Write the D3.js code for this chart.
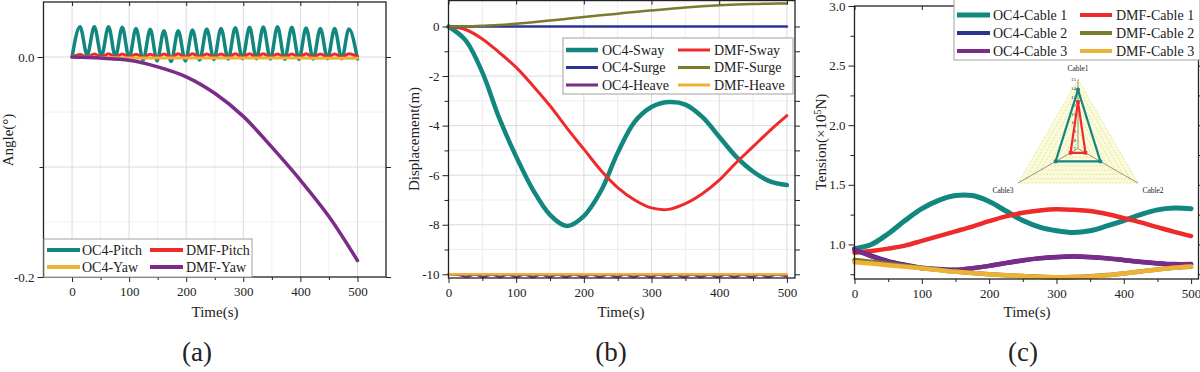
<!DOCTYPE html>
<html>
<head>
<meta charset="utf-8">
<script src="https://cdn.jsdelivr.net/npm/d3@7"></script>
<style>
  body { margin: 0; background: #fff; }
  svg text { font-family: "Liberation Serif", "Times New Roman", serif; fill: #222; }
</style>
</head>
<body>
<svg id="fig" width="1200" height="372"></svg>
<script>
// ---- (a) angles: wave times are the peaks / troughs of the pitch oscillation
const tWave = [0, 14, 26.5, 39, 51.5, 64, 76, 88, 100, 112, 124.5, 137, 149, 161, 173.5, 186, 198.5, 211,
  223.5, 236, 248.5, 261, 273.5, 286, 298.5, 311, 323, 335, 347.5, 360, 372.5, 385, 397.5, 410, 422.5,
  435, 447.5, 460, 472.5, 485, 500];
const oc4Pitch = [0, 0.0276, 0.0018, 0.0276, 0.0009, 0.0276, 0.0003, 0.027, -0.0009, 0.026, -0.0027,
  0.0252, -0.0036, 0.0239, -0.004, 0.0239, -0.0036, 0.0245, -0.0027, 0.0255, -0.0022, 0.026, -0.0018,
  0.0267, -0.0015, 0.027, -0.0015, 0.0273, -0.0018, 0.0276, -0.0021, 0.027, -0.0021, 0.0264, -0.0018,
  0.026, -0.0015, 0.0258, -0.0015, 0.0255, -0.0018];
const dmfPitch = [0, 0.0022, 0, 0.0028, -0.0002, 0.003, -0.0002, 0.0028, -0.0003, 0.0025, -0.0003,
  0.0025, -0.0003, 0.0028, -0.0003, 0.003, -0.0003, 0.003, -0.0003, 0.0028, -0.0003, 0.0028, -0.0003,
  0.003, -0.0003, 0.003, -0.0003, 0.003, -0.0003, 0.0028, -0.0003, 0.0028, -0.0003, 0.003, -0.0003,
  0.0028, -0.0003, 0.0028, -0.0003, 0.003, 0.0005];
const tYaw = [0, 50, 100, 150, 200, 250, 300, 350, 400, 450, 500];
const oc4Yaw = [0, -0.0005, -0.0008, -0.001, -0.001, -0.001, -0.001, -0.001, -0.001, -0.0012, -0.0012];
const dmfYaw = [0, -0.001, -0.003, -0.009, -0.018, -0.033, -0.054, -0.082, -0.112, -0.145, -0.185];

// ---- (b) displacement
const tStep = [0, 25, 50, 75, 100, 125, 150, 175, 200, 225, 250, 275, 300, 325, 350, 375, 400, 425, 450, 475, 500];
const oc4Sway = [0, -0.55, -1.85, -3.7, -5.25, -6.6, -7.6, -8.05, -7.65, -6.65, -5.1, -3.85, -3.25, -3.05,
  -3.15, -3.65, -4.45, -5.25, -5.85, -6.25, -6.4];
const dmfSway = [0, -0.12, -0.5, -1.05, -1.65, -2.4, -3.2, -4.1, -4.95, -5.8, -6.5, -7.0, -7.32, -7.38,
  -7.15, -6.75, -6.2, -5.5, -4.85, -4.2, -3.6];
const oc4Surge = [0, 0, 0, 0, 0, 0, 0, 0, 0, 0, 0, 0, 0, 0, 0, 0, 0, 0, 0, 0, 0];
const dmfSurge = [0, 0, 0.03, 0.06, 0.11, 0.17, 0.24, 0.31, 0.38, 0.45, 0.52, 0.59, 0.65, 0.71, 0.77,
  0.82, 0.86, 0.89, 0.91, 0.92, 0.93];
const oc4Heave = [-10.0, -10.02, -10.09, -10.01, -10.1, -10.01, -10.1, -10.01, -10.1, -10.01, -10.1,
  -10.01, -10.1, -10.01, -10.1, -10.01, -10.1, -10.01, -10.1, -10.01, -10.1, -10.01, -10.1, -10.01,
  -10.1, -10.01, -10.1, -10.01, -10.1, -10.01, -10.1, -10.01, -10.1, -10.01, -10.1, -10.01, -10.1,
  -10.01, -10.1, -10.01, -10.08];
const dmfHeave = [-10.0, -10.0, -10.0, -10.0, -10.0, -10.0, -10.0, -10.0, -10.0, -10.0, -10.0, -10.0,
  -10.0, -10.0, -10.0, -10.0, -10.0, -10.0, -10.0, -10.0, -10.0];

// ---- (c) tension (x10^5 N)
const oc4Cable1 = [0.965, 1.0, 1.09, 1.2, 1.3, 1.37, 1.41, 1.41, 1.36, 1.28, 1.2, 1.145, 1.115, 1.1, 1.115,
  1.155, 1.2, 1.25, 1.29, 1.305, 1.3];
const dmfCable1 = [0.93, 0.945, 0.965, 0.99, 1.03, 1.07, 1.11, 1.15, 1.195, 1.235, 1.265, 1.285, 1.295,
  1.29, 1.28, 1.255, 1.22, 1.185, 1.145, 1.105, 1.07];
const oc4Cable2 = [0.955, 0.905, 0.86, 0.83, 0.805, 0.793, 0.787, 0.8, 0.82, 0.843, 0.866, 0.883, 0.893,
  0.898, 0.893, 0.883, 0.868, 0.853, 0.841, 0.833, 0.833];
const oc4Cable3 = [0.96, 0.9, 0.855, 0.825, 0.8, 0.79, 0.785, 0.8, 0.82, 0.845, 0.868, 0.885, 0.895, 0.9,
  0.895, 0.885, 0.87, 0.855, 0.843, 0.835, 0.835];
const dmfCable2 = [0.87, 0.855, 0.837, 0.82, 0.803, 0.787, 0.772, 0.76, 0.75, 0.742, 0.736, 0.729, 0.725,
  0.727, 0.733, 0.743, 0.757, 0.773, 0.79, 0.804, 0.812];
const dmfCable3 = [0.85, 0.84, 0.826, 0.813, 0.8, 0.785, 0.77, 0.76, 0.749, 0.741, 0.735, 0.728, 0.724,
  0.726, 0.732, 0.742, 0.756, 0.772, 0.79, 0.805, 0.815];

// radar inset
const radarAxes = ["Cable1", "Cable2", "Cable3"];
const radarTicks = [7, 8, 9, 10, 11, 12, 13, 14, 15];
const radarOC4 = [13.8, 10.0, 10.0];
const radarDMF = [12.4, 8.0, 8.0];

const C = {
  teal: "#12877f", red: "#ef2a2a", orange: "#eeb136", purple: "#7b2b88",
  navy: "#2b3590", olive: "#7b7b2c"
};

const svg = d3.select("#fig");
svg.append("rect").attr("width", 1200).attr("height", 372).attr("fill", "#fff");

const zip = (t, v) => t.map((d, i) => [d, v[i]]);

function gridLines(g, x, y, xs, ys, color) {
  const [l, r] = x.range(), [b, t] = y.range();
  g.append("g").selectAll("line").data(xs).join("line")
    .attr("x1", d => x(d)).attr("x2", d => x(d)).attr("y1", t).attr("y2", b)
    .attr("stroke", color).attr("stroke-width", 1);
  g.append("g").selectAll("line").data(ys).join("line")
    .attr("y1", d => y(d)).attr("y2", d => y(d)).attr("x1", l).attr("x2", r)
    .attr("stroke", color).attr("stroke-width", 1);
}

// wave series go through their peaks/troughs (monotone), smooth ones use catmull-rom
function drawLine(g, x, y, pts, color, w, wave) {
  g.append("path")
    .datum(pts)
    .attr("fill", "none")
    .attr("stroke", color)
    .attr("stroke-width", w)
    .attr("stroke-linejoin", "round")
    .attr("stroke-linecap", "round")
    .attr("d", d3.line().x(d => x(d[0])).y(d => y(d[1]))
      .curve(wave ? d3.curveMonotoneX : d3.curveCatmullRom.alpha(0.5)));
}

// frame + ticks (left/bottom labelled, right outward, top inward)
function frame(g, x, y, o) {
  const [l, r] = x.range(), [b, t] = y.range();
  const fix = s => {
    s.select(".domain").remove();
    s.attr("font-size", 13).attr("color", "#222");
  };
  g.append("g").attr("transform", `translate(0,${b})`)
    .call(d3.axisBottom(x).tickValues(o.xMajor).tickSize(5).tickPadding(5).tickFormat(d3.format("d"))).call(fix);
  g.append("g").attr("transform", `translate(0,${b})`)
    .call(d3.axisBottom(x).tickValues(o.xMinor).tickSize(3).tickFormat("")).call(fix);
  g.append("g").attr("transform", `translate(0,${t})`)
    .call(d3.axisTop(x).tickValues(o.xMajor).tickSize(-4).tickFormat("")).call(fix);
  g.append("g").attr("transform", `translate(${l},0)`)
    .call(d3.axisLeft(y).tickValues(o.yLabelled).tickSize(6).tickPadding(3).tickFormat(o.yFormat)).call(fix);
  g.append("g").attr("transform", `translate(${l},0)`)
    .call(d3.axisLeft(y).tickValues(o.yMinor).tickSize(4).tickFormat("")).call(fix);
  g.append("g").attr("transform", `translate(${r},0)`)
    .call(d3.axisRight(y).tickValues(o.yLabelled.concat(o.yMinor)).tickSize(5).tickFormat("")).call(fix);
  g.append("rect").attr("x", l).attr("y", t).attr("width", r - l).attr("height", b - t)
    .attr("fill", "none").attr("stroke", "#222").attr("stroke-width", 1.3);
}

function titles(g, xc, yl, ycy, ylab, letterX, letter) {
  g.append("text").attr("x", xc).attr("y", 317).attr("text-anchor", "middle")
    .attr("font-size", 15).text("Time(s)");
  const yt = g.append("text").attr("transform", `translate(${yl},${ycy}) rotate(-90)`)
    .attr("text-anchor", "middle").attr("font-size", 15);
  ylab(yt);
  g.append("text").attr("x", letterX).attr("y", 361).attr("text-anchor", "middle")
    .attr("font-size", 27).text(letter);
}

function legend(g, box, cols, rows, items) {
  g.append("rect").attr("x", box[0]).attr("y", box[1]).attr("width", box[2]).attr("height", box[3])
    .attr("fill", "#fff").attr("stroke", "#a0a0a0").attr("stroke-width", 1);
  items.forEach((it, i) => {
    const c = cols[i % 2], yy = rows[Math.floor(i / 2)];
    g.append("line").attr("x1", c[0]).attr("x2", c[1]).attr("y1", yy).attr("y2", yy)
      .attr("stroke", it.color).attr("stroke-width", it.w);
    g.append("text").attr("x", c[2]).attr("y", yy).attr("dy", "0.34em")
      .attr("font-size", 14).text(it.label);
  });
}

// ================= (a) =================
{
  const g = svg.append("g");
  const x = d3.scaleLinear().domain([-50, 550]).range([43.5, 386]);
  const y = d3.scaleLinear().domain([-0.2, 0.05]).range([277, 2]);
  gridLines(g, x, y, [50, 150, 250, 350, 450], [-0.05, -0.15], "#f0f0f0");
  gridLines(g, x, y, [0, 100, 200, 300, 400, 500], [0, -0.1], "#dadada");

  drawLine(g, x, y, zip(tWave, oc4Pitch), C.teal, 3.5, true);
  drawLine(g, x, y, zip(tWave, dmfPitch), C.red, 3, true);
  drawLine(g, x, y, zip(tYaw, oc4Yaw), C.orange, 3);
  drawLine(g, x, y, zip(tYaw, dmfYaw), C.purple, 3.5);

  frame(g, x, y, {
    xMajor: [0, 100, 200, 300, 400, 500], xMinor: [50, 150, 250, 350, 450],
    yLabelled: [0, -0.2], yMinor: [-0.1], yFormat: d => d.toFixed(1)
  });
  legend(g, [44, 239, 208, 38], [[47, 80, 82], [150, 183, 186]], [250, 267], [
    { label: "OC4-Pitch", color: C.teal, w: 4 },
    { label: "DMF-Pitch", color: C.red, w: 4 },
    { label: "OC4-Yaw", color: C.orange, w: 4 },
    { label: "DMF-Yaw", color: C.purple, w: 4 }
  ]);
  titles(g, 215, 13, 140, t => t.text("Angle(°)"), 197, "(a)");
}

// ================= (b) =================
{
  const g = svg.append("g");
  const x = d3.scaleLinear().domain([0, 512]).range([448.5, 795]);
  const y = d3.scaleLinear().domain([-10.15, 1.05]).range([278, 0.5]);
  gridLines(g, x, y, [50, 150, 250, 350, 450], [1, -1, -3, -5, -7, -9], "#ededed");
  gridLines(g, x, y, [100, 200, 300, 400, 500], [-2, -4, -6, -8], "#dadada");

  drawLine(g, x, y, zip(tStep, oc4Sway), C.teal, 4.5);
  drawLine(g, x, y, zip(tStep, dmfSway), C.red, 3);
  drawLine(g, x, y, zip(tStep, oc4Surge), C.navy, 2.5);
  drawLine(g, x, y, zip(tStep, dmfSurge), C.olive, 2.5);
  drawLine(g, x, y, zip(tWave, oc4Heave), C.purple, 2.5, true);
  drawLine(g, x, y, zip(tStep, dmfHeave), C.orange, 2.5);

  frame(g, x, y, {
    xMajor: [0, 100, 200, 300, 400, 500], xMinor: [50, 150, 250, 350, 450],
    yLabelled: [0, -2, -4, -6, -8, -10], yMinor: [-1, -3, -5, -7, -9], yFormat: d => String(d)
  });
  legend(g, [563, 38, 230, 56], [[566, 598, 602], [678, 710, 714]], [50, 67.5, 85], [
    { label: "OC4-Sway", color: C.teal, w: 4.5 },
    { label: "DMF-Sway", color: C.red, w: 3 },
    { label: "OC4-Surge", color: C.navy, w: 3 },
    { label: "DMF-Surge", color: C.olive, w: 3 },
    { label: "OC4-Heave", color: C.purple, w: 3 },
    { label: "DMF-Heave", color: C.orange, w: 3 }
  ]);
  titles(g, 621, 418.5, 139, t => t.text("Displacement(m)"), 611, "(b)");
}

// ================= (c) =================
{
  const g = svg.append("g");
  const x = d3.scaleLinear().domain([0, 511]).range([854.5, 1198.5]);
  const y = d3.scaleLinear().domain([0.71, 3.0]).range([279, 6]);

  drawLine(g, x, y, zip(tStep, oc4Cable1), C.teal, 5);
  drawLine(g, x, y, zip(tStep, dmfCable1), C.red, 4.5);
  drawLine(g, x, y, zip(tStep, oc4Cable2), C.navy, 4.5);
  drawLine(g, x, y, zip(tStep, oc4Cable3), C.purple, 4.5);
  drawLine(g, x, y, zip(tStep, dmfCable2), C.olive, 4.5);
  drawLine(g, x, y, zip(tStep, dmfCable3), C.orange, 4.5);

  frame(g, x, y, {
    xMajor: [0, 100, 200, 300, 400, 500], xMinor: [50, 150, 250, 350, 450],
    yLabelled: [1.0, 1.5, 2.0, 2.5, 3.0], yMinor: [0.75, 1.25, 1.75, 2.25, 2.75],
    yFormat: d => d.toFixed(1)
  });
  legend(g, [954, -1, 246, 61], [[957, 990, 993], [1080, 1112, 1116]], [15, 33, 51], [
    { label: "OC4-Cable 1", color: C.teal, w: 5 },
    { label: "DMF-Cable 1", color: C.red, w: 4 },
    { label: "OC4-Cable 2", color: C.navy, w: 4 },
    { label: "DMF-Cable 2", color: C.olive, w: 4 },
    { label: "OC4-Cable 3", color: C.purple, w: 4 },
    { label: "DMF-Cable 3", color: C.orange, w: 4 }
  ]);
  titles(g, 1027, 826, 142, t => {
    t.append("tspan").text("Tension(×10");
    t.append("tspan").attr("dy", -5).attr("font-size", 10).text("5");
    t.append("tspan").attr("dy", 5).text("N)");
  }, 1023, "(c)");

  // radar inset
  const cx = 1078, cy = 148.5, R = 69;
  const rad = d3.scaleLinear().domain([7, 15]).range([0, R]);
  const ang = i => -Math.PI / 2 + i * 2 * Math.PI / 3;
  const pt = (v, i) => [cx + rad(v) * Math.cos(ang(i)), cy + rad(v) * Math.sin(ang(i))];
  const tri = v => radarAxes.map((_, i) => pt(v, i));
  const ins = g.append("g");
  ins.append("polygon").attr("points", tri(15).join(" ")).attr("fill", "#fafadc");
  ins.selectAll("polygon.ring").data(radarTicks.slice(1)).join("polygon")
    .attr("class", "ring").attr("points", d => tri(d).join(" "))
    .attr("fill", "none").attr("stroke", "#dcdd72").attr("stroke-width", 0.7)
    .attr("stroke-dasharray", "2,1.5");
  ins.selectAll("line.ax").data(radarAxes).join("line").attr("class", "ax")
    .attr("x1", cx).attr("y1", cy)
    .attr("x2", (_, i) => pt(15, i)[0]).attr("y2", (_, i) => pt(15, i)[1])
    .attr("stroke", "#8c8a6e").attr("stroke-width", 0.9);
  ins.selectAll("text.tk").data(radarTicks).join("text").attr("class", "tk")
    .attr("x", cx - 2).attr("y", d => cy - rad(d)).attr("dy", "0.35em")
    .attr("text-anchor", "end").attr("font-size", 5).text(d => d);
  [[radarOC4, C.teal], [radarDMF, C.red]].forEach(([vals, col]) => {
    const p = vals.map((v, i) => pt(v, i));
    ins.append("polygon").attr("points", p.join(" "))
      .attr("fill", "none").attr("stroke", col).attr("stroke-width", 2.2);
    ins.selectAll(null).data(p).join("rect")
      .attr("x", d => d[0] - 1.8).attr("y", d => d[1] - 1.8).attr("width", 3.6).attr("height", 3.6)
      .attr("fill", col);
  });
  const labPos = [[cx, 71], [1153, 193], [1003, 193]];
  ins.selectAll("text.al").data(radarAxes).join("text").attr("class", "al")
    .attr("x", (_, i) => labPos[i][0]).attr("y", (_, i) => labPos[i][1])
    .attr("text-anchor", "middle").attr("font-size", 7.5).text(d => d);
}
</script>
</body>
</html>
